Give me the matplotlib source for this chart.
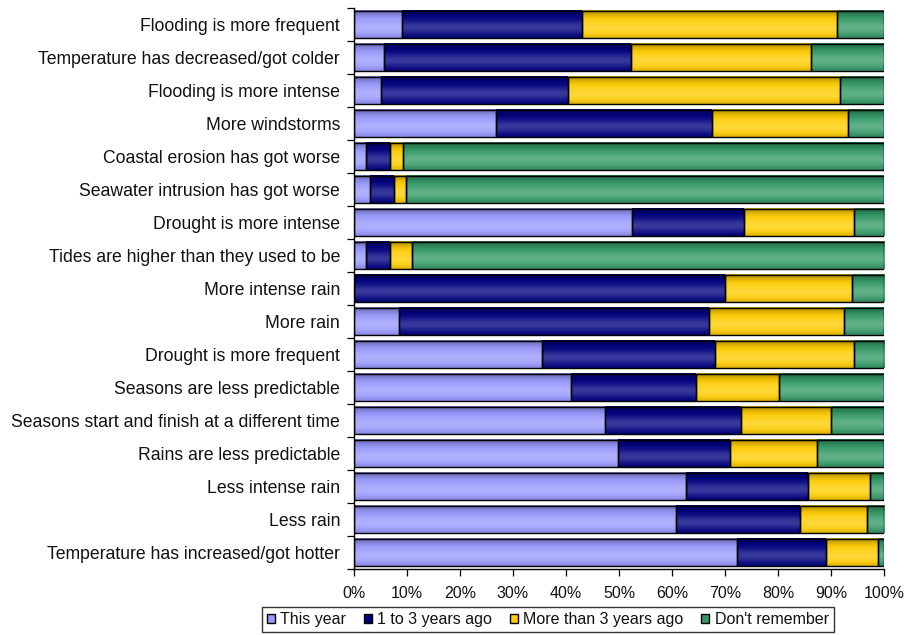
import numpy as np
import matplotlib
matplotlib.use("Agg")
import matplotlib.pyplot as plt
from matplotlib.patches import Patch
from matplotlib.colors import to_rgb

plt.rcParams['font.family'] = ['Liberation Sans', 'DejaVu Sans']

# Categories listed top to bottom
categories = [
    "Flooding is more frequent",
    "Temperature has decreased/got colder",
    "Flooding is more intense",
    "More windstorms",
    "Coastal erosion has got worse",
    "Seawater intrusion has got worse",
    "Drought is more intense",
    "Tides are higher than they used to be",
    "More intense rain",
    "More rain",
    "Drought is more frequent",
    "Seasons are less predictable",
    "Seasons start and finish at a different time",
    "Rains are less predictable",
    "Less intense rain",
    "Less rain",
    "Temperature has increased/got hotter",
]

this_year = [9.0, 5.6, 5.1, 26.8, 2.3, 3.1, 52.5, 2.3, 0.0, 8.4,
             35.5, 40.9, 47.3, 49.8, 62.7, 60.7, 72.2]
one_to_three = [34.1, 46.7, 35.2, 40.7, 4.4, 4.4, 21.0, 4.4, 70.0, 58.5,
                32.6, 23.7, 25.8, 21.2, 22.9, 23.5, 16.8]
more_than_three = [48.1, 34.0, 51.4, 25.8, 2.6, 2.4, 20.8, 4.2, 23.9, 25.6,
                   26.2, 15.6, 16.9, 16.4, 11.8, 12.5, 9.9]
dont_remember = [8.8, 13.7, 8.3, 6.7, 90.7, 90.1, 5.7, 89.1, 6.1, 7.5,
                 5.7, 19.8, 10.0, 12.6, 2.6, 3.3, 1.1]

series_names = ["This year", "1 to 3 years ago", "More than 3 years ago", "Don't remember"]
series_colors = ["#9999FF", "#000080", "#FFCC00", "#339966"]

series = [this_year, one_to_three, more_than_three, dont_remember]
data = np.array(series, dtype=float)
data = data / data.sum(axis=0)  # shares of 100%


def shade_column(color, n=64):
    # vertical Excel-like gradient: darker top edge, light band below middle
    base = np.array(to_rgb(color))
    t = np.linspace(0, 1, n)
    light = np.exp(-((t - 0.62) / 0.25) ** 2)
    dark = np.exp(-(t / 0.2) ** 2) * 0.28 + np.exp(-((1 - t) / 0.12) ** 2) * 0.12
    rgb = base[None, :] * (1 - dark[:, None])
    rgb = rgb + (1 - rgb) * (0.22 * light[:, None])
    return rgb[:, None, :]


fig = plt.figure(figsize=(9.06, 6.35), dpi=100)
ax = fig.add_axes([354 / 906, 1 - 569 / 635, 530 / 906, 561 / 635])

y = np.arange(len(categories))
height = 0.83
left = np.zeros(len(categories))
for vals, color in zip(data, series_colors):
    bars = ax.barh(y, vals, left=left, height=height, color=color,
                   edgecolor="none", zorder=2)
    grad = shade_column(color)
    for b in bars:
        if b.get_width() <= 0:
            continue
        x0, y0 = b.get_x(), b.get_y()
        ax.imshow(grad, extent=(x0, x0 + b.get_width(), y0 + b.get_height(), y0),
                  aspect="auto", zorder=2.5, interpolation="bilinear")
    ax.barh(y, vals, left=left, height=height, fill=False,
            edgecolor="black", linewidth=1.0, zorder=3)
    left += vals

ax.set_xlim(0, 1)
ax.set_ylim(len(categories) - 0.5, -0.5)

ax.set_yticks(y)
ax.set_yticklabels(categories, fontsize=12.7, color="#111111")
ax.set_yticks(np.arange(len(categories) + 1) - 0.5, minor=True)
ax.tick_params(axis="y", which="major", length=0, pad=10)
ax.tick_params(axis="y", which="minor", length=5, width=0.9, direction="out")

ax.set_xticks(np.linspace(0, 1, 11))
ax.set_xticklabels([f"{int(v)}%" for v in np.arange(0, 101, 10)], fontsize=11.5,
                   color="#111111")
ax.tick_params(axis="x", length=5, width=0.9, direction="out", pad=7)

for side in ["top", "right"]:
    ax.spines[side].set_visible(False)
for side in ["left", "bottom"]:
    ax.spines[side].set_linewidth(1.0)

handles = [Patch(facecolor=c, edgecolor="black", linewidth=1.0) for c in series_colors]
leg = fig.legend(handles, series_names, loc="lower left",
                 bbox_to_anchor=(262 / 906, 3 / 635), ncol=4, fontsize=11.5,
                 frameon=True, fancybox=False, handlelength=0.5, handleheight=0.5,
                 handletextpad=0.35, columnspacing=1.1, borderpad=0.3,
                 borderaxespad=0)
leg.get_frame().set_edgecolor("black")
leg.get_frame().set_linewidth(1.0)
for txt in leg.get_texts():
    txt.set_color("#111111")

fig.savefig("out.png", dpi=100)
